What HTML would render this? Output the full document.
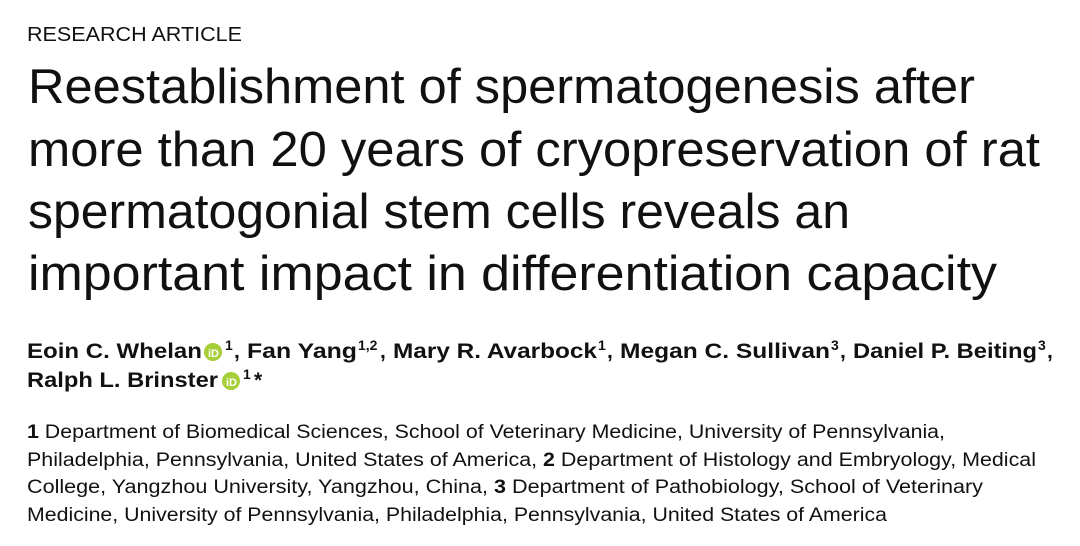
<!DOCTYPE html>
<html><head><meta charset="utf-8"><style>
html,body{margin:0;padding:0;background:#fff;width:1080px;height:546px;overflow:hidden}
svg{display:block}
text{font-family:"Liberation Sans",Arial,sans-serif;fill:#111}
</style></head><body>
<svg width="1080" height="546" viewBox="0 0 1080 546" xmlns="http://www.w3.org/2000/svg">
<text x="27" y="41" font-size="20" textLength="215" lengthAdjust="spacingAndGlyphs">RESEARCH ARTICLE</text>
<g font-size="49">
<text x="28" y="103" textLength="947" lengthAdjust="spacingAndGlyphs">Reestablishment of spermatogenesis after</text>
<text x="28" y="166" textLength="1012" lengthAdjust="spacingAndGlyphs">more than 20 years of cryopreservation of rat</text>
<text x="28" y="228" textLength="822" lengthAdjust="spacingAndGlyphs">spermatogonial stem cells reveals an</text>
<text x="28" y="290" textLength="969" lengthAdjust="spacingAndGlyphs">important impact in differentiation capacity</text>
</g>
<g font-size="21" font-weight="bold">
<text x="27" y="358" textLength="175" lengthAdjust="spacingAndGlyphs">Eoin C. Whelan</text>
<text x="225" y="350" font-size="14">1</text>
<text x="234" y="358">,</text>
<text x="247" y="358" textLength="110" lengthAdjust="spacingAndGlyphs">Fan Yang</text>
<text x="358" y="350" font-size="14">1,2</text>
<text x="380" y="358">,</text>
<text x="393" y="358" textLength="204" lengthAdjust="spacingAndGlyphs">Mary R. Avarbock</text>
<text x="598" y="350" font-size="14">1</text>
<text x="607" y="358">,</text>
<text x="620" y="358" textLength="210" lengthAdjust="spacingAndGlyphs">Megan C. Sullivan</text>
<text x="831" y="350" font-size="14">3</text>
<text x="840" y="358">,</text>
<text x="853" y="358" textLength="184" lengthAdjust="spacingAndGlyphs">Daniel P. Beiting</text>
<text x="1038" y="350" font-size="14">3</text>
<text x="1047" y="358">,</text>
<text x="27" y="387" textLength="191" lengthAdjust="spacingAndGlyphs">Ralph L. Brinster</text>
<text x="243" y="379" font-size="14">1</text>
<text x="254" y="387">*</text>
</g>
<circle cx="213" cy="352" r="9" fill="#a6ce39"/>
<text x="208" y="357" font-size="11" style="fill:#fff" font-weight="bold">iD</text>
<circle cx="231" cy="381" r="9" fill="#a6ce39"/>
<text x="226" y="386" font-size="11" style="fill:#fff" font-weight="bold">iD</text>
<g font-size="19">
<text x="27" y="438" textLength="918" lengthAdjust="spacingAndGlyphs"><tspan font-weight="bold">1</tspan>  Department of Biomedical Sciences, School of Veterinary Medicine, University of Pennsylvania,</text>
<text x="27" y="466" textLength="1009" lengthAdjust="spacingAndGlyphs">Philadelphia, Pennsylvania, United States of America, <tspan font-weight="bold">2</tspan>  Department of Histology and Embryology, Medical</text>
<text x="27" y="493" textLength="956" lengthAdjust="spacingAndGlyphs">College, Yangzhou University, Yangzhou, China, <tspan font-weight="bold">3</tspan>  Department of Pathobiology, School of Veterinary</text>
<text x="27" y="521" textLength="860" lengthAdjust="spacingAndGlyphs">Medicine, University of Pennsylvania, Philadelphia, Pennsylvania, United States of America</text>
</g>
</svg>
</body></html>
